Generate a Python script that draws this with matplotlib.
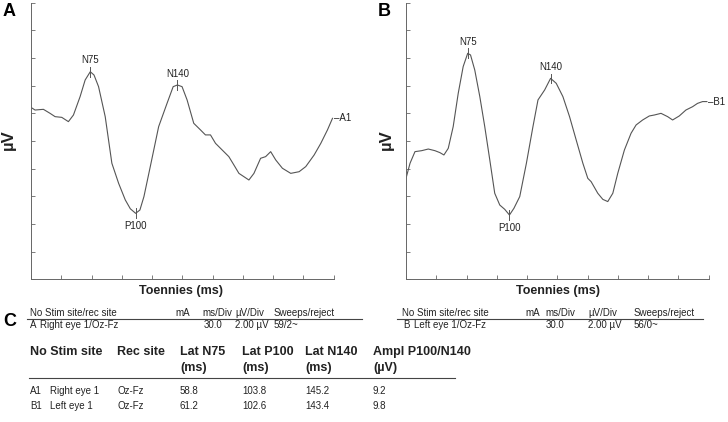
import numpy as np
import matplotlib
matplotlib.use("Agg")
import matplotlib.pyplot as plt
from matplotlib.lines import Line2D

plt.rcParams['font.family'] = ['Liberation Sans', 'DejaVu Sans']

# VEP traces (time in ms, amplitude in uV, 2 uV/div, 30 ms/div)
a_ms = [0, 4.0, 12.3, 18.9, 23.9, 30.5, 37.1, 42.1, 48.7, 53.7, 58.8, 62.5, 67.0, 73.6,
        80.2, 86.9, 93.5, 98.5, 103.8, 108.0, 112.0, 118.3, 126.6, 134.9, 141.0, 145.2,
        149.8, 154.8, 161.4, 168.1, 173.0, 178.0, 183.0, 189.6, 196.2, 201.2, 206.2,
        216.1, 221.1, 227.7, 232.7, 237.7, 242.7, 249.3, 257.6, 265.9, 272.5, 280.8,
        287.4, 294.0, 299.0]
a_uv = [12.43, 12.24, 12.29, 12.0, 11.76, 11.71, 11.40, 11.88, 13.21, 14.41, 15.01, 14.77,
        13.93, 11.76, 8.39, 6.94, 5.74, 5.10, 4.77, 5.01, 5.98, 8.15, 11.04, 12.72, 13.93,
        14.05, 13.93, 12.97, 11.28, 10.80, 10.44, 10.44, 9.83, 9.35, 8.87, 8.27, 7.66,
        7.18, 7.66, 8.75, 8.87, 9.23, 8.63, 8.03, 7.66, 7.78, 8.15, 8.99, 9.83, 10.80, 11.64]

b_ms = [0, 4.0, 8.9, 15.5, 22.1, 28.7, 33.6, 37.6, 41.9, 46.8, 51.8, 56.7, 61.2, 64.0,
        68.2, 73.2, 78.1, 83.1, 88.0, 93.0, 97.9, 102.6, 107.0, 112.8, 119.4, 125.9,
        130.9, 137.5, 143.4, 149.0, 155.6, 162.2, 168.8, 175.4, 180.3, 183.6, 190.2,
        195.2, 200.1, 205.1, 210.0, 216.6, 223.2, 228.2, 234.7, 241.3, 246.3, 252.9,
        259.5, 264.4, 271.0, 277.6, 284.2, 289.1, 294.1, 298.4]
b_uv = [7.30, 8.39, 9.23, 9.30, 9.42, 9.30, 9.16, 8.99, 9.47, 11.04, 13.45, 15.38, 16.34,
        16.22, 15.13, 13.21, 11.04, 8.63, 6.22, 5.37, 5.06, 4.65, 5.13, 5.98, 8.39, 11.04,
        12.97, 13.69, 14.53, 14.17, 13.21, 11.76, 10.07, 8.39, 7.30, 7.06, 6.22, 5.78,
        5.62, 6.22, 7.66, 9.35, 10.56, 11.16, 11.52, 11.81, 11.88, 12.00, 11.76, 11.52,
        11.81, 12.24, 12.48, 12.72, 12.85, 12.85]

peaks = ["N75", "P100", "N140"]
a_lat = [58.8, 103.8, 145.2]
b_lat = [61.2, 102.6, 143.4]

# table data
small_hdr = ["No Stim site/rec site", "mA", "ms/Div", "\u00b5V/Div", "Sweeps/reject"]
a_row = ["A", "Right eye 1/Oz-Fz", "30.0", "2.00 \u00b5V", "59/2~"]
b_row = ["B", "Left eye 1/Oz-Fz", "30.0", "2.00 \u00b5V", "56/0~"]

big_hdr1 = ["No Stim site", "Rec site", "Lat N75", "Lat P100", "Lat N140", "Ampl P100/N140"]
big_hdr2 = ["", "", "(ms)", "(ms)", "(ms)", "(\u00b5V)"]
big_rows = [["A1", "Right eye 1", "Oz-Fz", "58.8", "103.8", "145.2", "9.2"],
            ["B1", "Left eye 1", "Oz-Fz", "61.2", "102.6", "143.4", "9.8"]]

W, H = 728, 422
fig = plt.figure(figsize=(W / 100, H / 100), dpi=100)

def fx(x):
    return x / W

def fy(y):
    return 1 - y / H

trace_col = '#555555'
axis_col = '#666666'
txt_col = '#222222'


def panel(left, ms, uv, lat, end_label):
    ax = fig.add_axes([fx(left), fy(279.3), 302.5 / W, 276.6 / H])
    ax.plot(ms, uv, color=trace_col, lw=0.8, solid_joinstyle='round')
    ax.set_xlim(0, 300)
    ax.set_ylim(0, 20)
    ax.set_xticks(np.arange(0, 301, 30))
    ax.set_yticks(np.arange(0, 21, 2))
    ax.set_xticklabels([])
    ax.set_yticklabels([])
    ax.tick_params(direction='in', length=3, width=0.6, color=axis_col)
    for s in ['top', 'right']:
        ax.spines[s].set_visible(False)
    for s in ['left', 'bottom']:
        ax.spines[s].set_color(axis_col)
        ax.spines[s].set_linewidth(0.7)
    for name, t in zip(peaks, lat):
        v = np.interp(t, ms, uv)
        ax.plot([t, t], [v - 0.35, v + 0.35], color=trace_col, lw=0.7)
        if name.startswith("P"):
            ax.annotate(name, (t, v - 0.35), xytext=(0, -2), textcoords='offset points',
                        ha='center', va='top', fontsize=7, color=txt_col)
        else:
            ax.annotate(name, (t, v + 0.35), xytext=(0, 1), textcoords='offset points',
                        ha='center', va='bottom', fontsize=7, color=txt_col)
    ax.annotate("\u2013" + end_label, (ms[-1], uv[-1]), xytext=(1, 0),
                textcoords='offset points', ha='left', va='center', fontsize=7,
                color=txt_col, annotation_clip=False)
    return ax


panel(31, a_ms, a_uv, a_lat, "A1")
panel(406, b_ms, b_uv, b_lat, "B1")

# panel letters and axis titles
fig.text(fx(3), fy(12), "A", fontsize=13, weight='bold', va='center', ha='left')
fig.text(fx(378), fy(11), "B", fontsize=13, weight='bold', va='center', ha='left')
fig.text(fx(3), fy(321), "C", fontsize=13, weight='bold', va='center', ha='left')
for x in [8, 386]:
    fig.text(fx(x), fy(140), "\u00b5V", fontsize=12, weight='bold', rotation=90,
             va='center', ha='center', color=txt_col)
for x in [181, 558]:
    fig.text(fx(x), fy(291), "Toennies (ms)", fontsize=9, weight='bold',
             va='center', ha='center', color=txt_col)


def hline(x0, x1, y):
    fig.add_artist(Line2D([fx(x0), fx(x1)], [fy(y), fy(y)], color='#444444', lw=0.8))


# small settings tables
def small_table(hx, rx, row, x0, x1):
    for x, s in zip(hx, small_hdr):
        fig.text(fx(x), fy(313), s, fontsize=7, va='center', ha='left', color=txt_col)
    hline(x0, x1, 319)
    for x, s in zip(rx, row):
        fig.text(fx(x), fy(325.5), s, fontsize=7, va='center', ha='left', color=txt_col)


small_table([30, 175, 202, 235, 274], [30, 40, 204, 235, 274], a_row, 27, 362)
small_table([402, 525, 545, 588, 634], [403, 414, 546, 588, 634], b_row, 397, 703)

# results table
col_x = [30, 117, 180, 242, 305, 373]
for x, s1, s2 in zip(col_x, big_hdr1, big_hdr2):
    fig.text(fx(x), fy(352), s1, fontsize=9, weight='bold', va='center', ha='left',
             color=txt_col)
    if s2:
        fig.text(fx(x), fy(368), s2, fontsize=9, weight='bold', va='center', ha='left',
                 color=txt_col)
hline(29, 455, 378)
row_x = [30, 50, 117, 180, 242, 305, 373]
for y, row in zip([391, 406], big_rows):
    for x, s in zip(row_x, row):
        fig.text(fx(x), fy(y), s, fontsize=7, va='center', ha='left', color=txt_col)

fig.savefig("out.png", dpi=100, facecolor='white')
